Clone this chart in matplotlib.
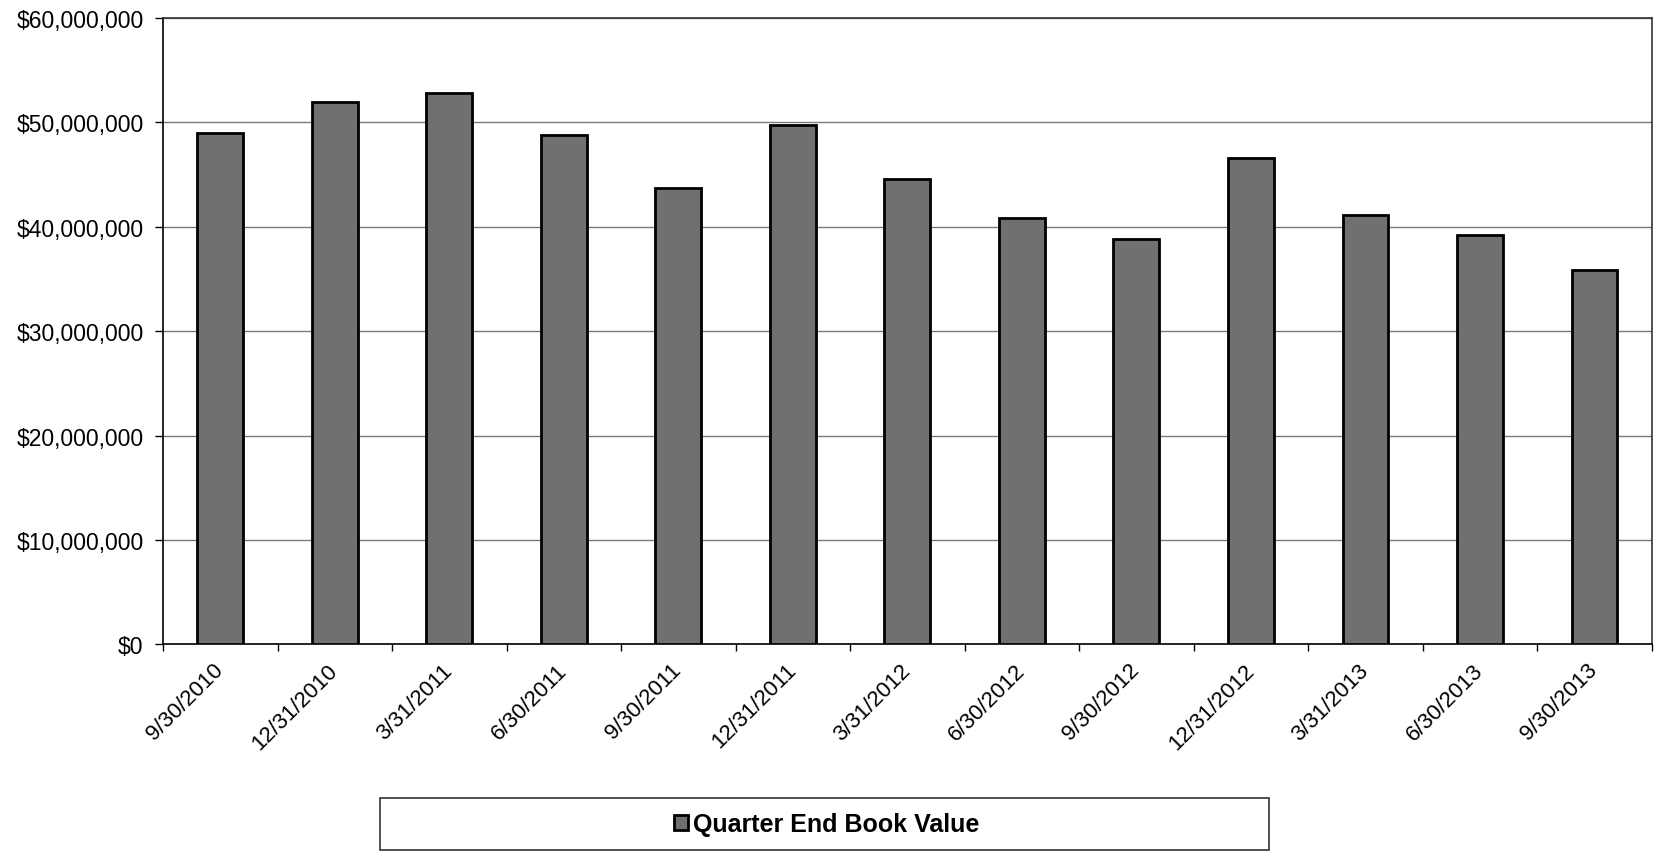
import matplotlib.pyplot as plt
from matplotlib.patches import Rectangle
from matplotlib.ticker import FuncFormatter, MultipleLocator
import numpy as np

plt.rcParams['font.family'] = ['Liberation Sans', 'DejaVu Sans']

quarters = ["9/30/2010", "12/31/2010", "3/31/2011", "6/30/2011", "9/30/2011",
            "12/31/2011", "3/31/2012", "6/30/2012", "9/30/2012", "12/31/2012",
            "3/31/2013", "6/30/2013", "9/30/2013"]
book_value = [49.0, 52.0, 52.8, 48.8, 43.7, 49.8, 44.6, 40.8, 38.8, 46.6,
              41.1, 39.2, 35.9]  # millions of dollars
series_name = "Quarter End Book Value"

values = np.array(book_value) * 1e6
x = np.arange(len(quarters))

fig = plt.figure(figsize=(16.55, 8.53), dpi=100)
ax = fig.add_axes([0.0985, 0.2433, 0.8995, 0.7344])

bars = ax.bar(x, values, width=0.4, color="#707070", edgecolor="black",
              linewidth=2.0, zorder=3, label=series_name)

ax.set_xlim(-0.5, len(quarters) - 0.5)
ax.set_ylim(0, 60e6)
ax.yaxis.set_major_locator(MultipleLocator(10e6))
ax.yaxis.set_major_formatter(FuncFormatter(lambda v, p: "${:,.0f}".format(v)))
ax.grid(axis="y", color="#7a7a7a", linewidth=1.0, zorder=0)

# category ticks sit between the bars, labels under the bars
ax.set_xticks(np.arange(len(quarters) + 1) - 0.5)
ax.set_xticklabels([])
ax.set_xticks(x, minor=True)
ax.set_xticklabels(quarters, minor=True, rotation=45, ha="right", va="center",
                   rotation_mode="anchor", fontsize=16)
ax.tick_params(axis="x", which="minor", length=0, pad=16)
ax.tick_params(axis="x", which="major", length=5, width=1, direction="out")
ax.tick_params(axis="y", length=6, width=1, labelsize=16.5, pad=8)

for side in ["left", "bottom"]:
    ax.spines[side].set_color("black")
    ax.spines[side].set_linewidth(1.2)
for side in ["top", "right"]:
    ax.spines[side].set_color("#333333")
    ax.spines[side].set_linewidth(1.2)

# legend box under the chart
box = Rectangle((380 / 1655, 1 - 851 / 853), 889 / 1655, 52 / 853,
                transform=fig.transFigure, facecolor="white",
                edgecolor="#333333", linewidth=1.2)
fig.patches.append(box)
fig.legend(handles=[bars], labels=[series_name], loc="center",
           bbox_to_anchor=(827 / 1655, 1 - 825 / 853), frameon=False,
           prop={"weight": "bold", "size": 18}, handlelength=0.55,
           handleheight=0.55, handletextpad=0.2)

fig.savefig("out.png", dpi=100)
